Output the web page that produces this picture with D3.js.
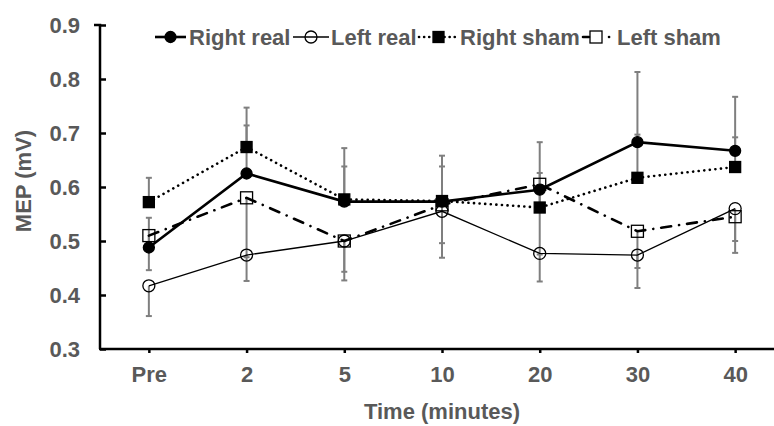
<!DOCTYPE html>
<html>
<head>
<meta charset="utf-8">
<script src="https://cdn.jsdelivr.net/npm/d3@7"></script>
<style>
body { margin: 0; background: #fff; }
text { font-family: Arial, "Liberation Sans", sans-serif; font-weight: bold; fill: #595959; }
</style>
</head>
<body>
<svg width="774" height="426"></svg>
<script>
var times = ["Pre", "2", "5", "10", "20", "30", "40"];
var yTicks = [0.3, 0.4, 0.5, 0.6, 0.7, 0.8, 0.9];

var rightReal = [0.488, 0.625, 0.573, 0.573, 0.595, 0.683, 0.667];
var leftReal  = [0.417, 0.474, 0.500, 0.555, 0.477, 0.474, 0.560];
var rightSham = [0.572, 0.674, 0.577, 0.574, 0.562, 0.617, 0.637];
var leftSham  = [0.510, 0.580, 0.500, 0.567, 0.605, 0.518, 0.545];

// error bars: right series drawn upward, left series downward
var rightRealErr = [0.055, 0.089, 0.099, 0.085, 0.088, 0.130, 0.100];
var leftRealErr  = [0.056, 0.048, 0.073, 0.086, 0.052, 0.061, 0.082];
var rightShamErr = [0.045, 0.073, 0.061, 0.064, 0.064, 0.080, 0.055];
var leftShamErr  = [0.064, 0.110, 0.057, 0.071, 0.130, 0.068, 0.045];

var series = [
    {name: "Right real", values: rightReal, err: rightRealErr, dir: 1, width: 2.6, dash: null, legendDash: null, marker: "circle", filled: true},
    {name: "Left real", values: leftReal, err: leftRealErr, dir: -1, width: 1.3, dash: null, legendDash: null, marker: "circle", filled: false},
    {name: "Right sham", values: rightSham, err: rightShamErr, dir: 1, width: 2.6, dash: "0.1,5.5", legendDash: "0.1,5", marker: "square", filled: true},
    {name: "Left sham", values: leftSham, err: leftShamErr, dir: -1, width: 2.6, dash: "10,8,0.1,8", legendDash: "6,20,0.1,100", marker: "square", filled: false}
];

// legend layout: [sample start, sample end, text start]
var legendPos = [[155, 186, 189], [293, 329, 331], [419, 458, 460], [583, 612, 617]];

var fontSize = "22px";
var svg = d3.select("svg");

var x = d3.scalePoint().domain(times).range([100, 784]).padding(0.5);
var y = d3.scaleLinear().domain([0.3, 0.9]).range([349, 25]);

// error bars
var eb = svg.append("g").attr("class", "errorbars");
series.forEach(function (s) {
    s.values.forEach(function (v, i) {
        var x0 = x(times[i]);
        var y1 = y(v + s.dir * s.err[i]);
        eb.append("line")
            .attr("x1", x0).attr("x2", x0)
            .attr("y1", y(v)).attr("y2", y1)
            .style("stroke", "#7f7f7f").style("stroke-width", 2);
        eb.append("line")
            .attr("x1", x0 - 3).attr("x2", x0 + 3)
            .attr("y1", y1).attr("y2", y1)
            .style("stroke", "#7f7f7f").style("stroke-width", 2);
    });
});

// axes
var yAxis = d3.axisLeft(y).tickValues(yTicks).tickSize(-6).tickPadding(20)
    .tickFormat(d3.format(".1f"));
var gy = svg.append("g").attr("transform", "translate(100,0)").call(yAxis);
gy.select(".domain").attr("d", "M-6,25H0V349").style("stroke", "#000").style("stroke-width", 2.5);
gy.selectAll(".tick line").style("stroke", "#000").style("stroke-width", 2.5);
gy.selectAll(".tick text").style("font-size", fontSize).attr("dy", "0.35em");

var xAxis = d3.axisBottom(x).tickSize(4).tickPadding(13);
var gx = svg.append("g").attr("transform", "translate(0,349)").call(xAxis);
gx.select(".domain").attr("d", "M99,0H784").style("stroke", "#000").style("stroke-width", 2.5);
gx.selectAll(".tick line").style("stroke", "#000").style("stroke-width", 2.5);
gx.selectAll(".tick text").style("font-size", fontSize);

svg.append("text")
    .attr("transform", "translate(31,181) rotate(-90)")
    .attr("text-anchor", "middle")
    .style("font-size", fontSize)
    .text("MEP (mV)");

svg.append("text")
    .attr("x", 442).attr("y", 419)
    .attr("text-anchor", "middle")
    .style("font-size", fontSize)
    .text("Time (minutes)");

// lines
var line = d3.line()
    .x(function (d, i) { return x(times[i]); })
    .y(function (d) { return y(d); });

function drawMarker(g, s, cx, cy) {
    if (s.marker === "circle") {
        g.append("circle").attr("cx", cx).attr("cy", cy).attr("r", s.filled ? 5.5 : 6)
            .style("fill", s.filled ? "#000" : "none")
            .style("stroke", "#000").style("stroke-width", 1.3);
    } else {
        var h = s.filled ? 5.5 : 6;
        g.append("rect").attr("x", cx - h).attr("y", cy - h).attr("width", 2 * h).attr("height", 2 * h)
            .style("fill", s.filled ? "#000" : "none")
            .style("stroke", "#000").style("stroke-width", 1.3);
    }
}

var gl = svg.append("g").attr("class", "lines");
series.forEach(function (s) {
    gl.append("path")
        .datum(s.values)
        .attr("d", line)
        .style("fill", "none")
        .style("stroke", "#000")
        .style("stroke-width", s.width)
        .style("stroke-linecap", s.dash ? "round" : "butt")
        .style("stroke-dasharray", s.dash);
});

var gm = svg.append("g").attr("class", "markers");
series.forEach(function (s) {
    s.values.forEach(function (v, i) {
        drawMarker(gm, s, x(times[i]), y(v));
    });
});

// legend
var lg = svg.append("g").attr("class", "legend");
var ly = 37;
series.forEach(function (s, k) {
    var p = legendPos[k];
    lg.append("line")
        .attr("x1", p[0]).attr("x2", p[1])
        .attr("y1", ly).attr("y2", ly)
        .style("stroke", "#000")
        .style("stroke-width", s.width)
        .style("stroke-linecap", s.legendDash ? "round" : "butt")
        .style("stroke-dasharray", s.legendDash);
    drawMarker(lg, s, k === 3 ? 596 : (p[0] + p[1]) / 2, ly);
    lg.append("text")
        .attr("x", p[2]).attr("y", ly).attr("dy", "0.35em")
        .style("font-size", fontSize)
        .text(s.name);
});
</script>
</body>
</html>
